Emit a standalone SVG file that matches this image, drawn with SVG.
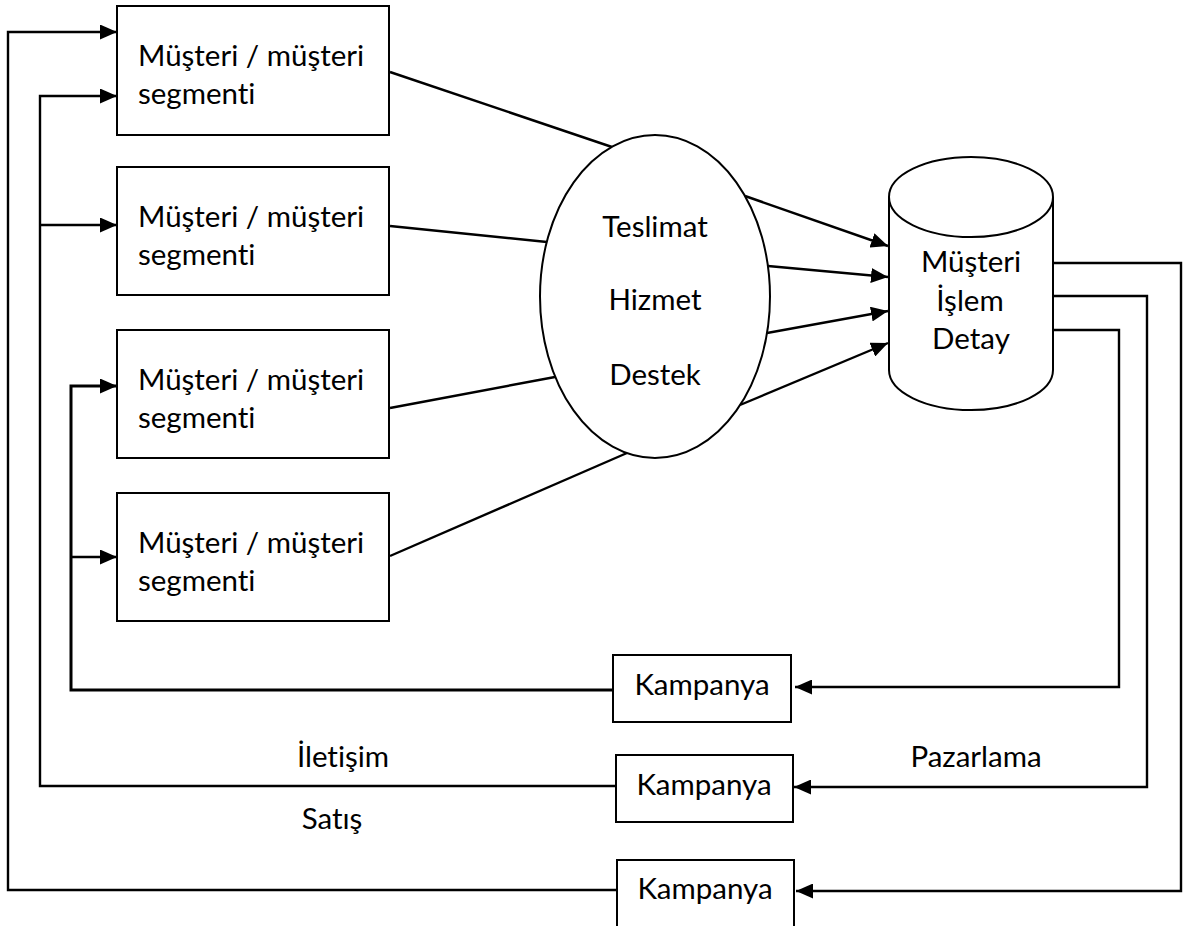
<svg xmlns="http://www.w3.org/2000/svg" width="1187" height="926" viewBox="0 0 1187 926">
  <style>
    .box { fill: #fff; stroke: #000; stroke-width: 2; }
    .shape { fill: #fff; stroke: #000; stroke-width: 2; }
    .lbl { font-family: Lato, "Liberation Sans", sans-serif; font-size: 29.5px; fill: #000; font-variant-ligatures: none; }
    .mid { text-anchor: middle; }
    .ln { fill: none; stroke: #000; stroke-width: 2.4; }
    .lnb { fill: none; stroke: #000; stroke-width: 3; }
  </style>
  <defs>
    <marker id="arr" viewBox="0 0 17 15" refX="17" refY="7.5" markerWidth="17" markerHeight="15" markerUnits="userSpaceOnUse" orient="auto">
      <path d="M0,0 L17,7.5 L0,15 Z" fill="#000"/>
    </marker>
  </defs>
  <rect width="1187" height="926" fill="#fff"/>

  <!-- connectors -->
  <g id="connectors">
    <!-- segments to service ellipse -->
    <line class="ln" x1="390" y1="72" x2="612" y2="147"/>
    <line class="ln" x1="390" y1="226" x2="547" y2="242"/>
    <line class="ln" x1="390" y1="408" x2="555" y2="377"/>
    <line class="ln" x1="390" y1="556" x2="627" y2="453"/>
    <!-- ellipse to database -->
    <line class="ln" x1="745" y1="196" x2="888" y2="246" marker-end="url(#arr)"/>
    <line class="ln" x1="768" y1="266" x2="888" y2="277" marker-end="url(#arr)"/>
    <line class="ln" x1="767" y1="333" x2="888" y2="311" marker-end="url(#arr)"/>
    <line class="ln" x1="740" y1="405" x2="888" y2="343" marker-end="url(#arr)"/>
    <!-- database to campaigns -->
    <polyline class="ln" points="1053,263 1181,263 1181,891 796,891" marker-end="url(#arr)"/>
    <polyline class="ln" points="1053,296 1147,296 1147,787 794,787" marker-end="url(#arr)"/>
    <polyline class="ln" points="1053,330 1119,330 1119,687 795,687" marker-end="url(#arr)"/>
    <!-- campaigns back to segments -->
    <polyline class="ln" points="617,890 8,890 8,32 117,32" marker-end="url(#arr)"/>
    <polyline class="ln" points="616,786 40,786 40,96 117,96" marker-end="url(#arr)"/>
    <polyline class="ln" points="40,225 117,225" marker-end="url(#arr)"/>
    <polyline class="lnb" points="613,690 71,690 71,386 117,386" marker-end="url(#arr)"/>
    <polyline class="ln" points="71,557 117,557" marker-end="url(#arr)"/>
  </g>

  <g id="segment1">
    <rect class="box" x="117" y="6" width="272" height="129"/>
    <text class="lbl" x="138" y="66">Müşteri / müşteri</text>
    <text class="lbl" x="138" y="104">segmenti</text>
  </g>
  <g id="segment2">
    <rect class="box" x="117" y="167" width="272" height="128"/>
    <text class="lbl" x="138" y="227">Müşteri / müşteri</text>
    <text class="lbl" x="138" y="265">segmenti</text>
  </g>
  <g id="segment3">
    <rect class="box" x="117" y="330" width="272" height="128"/>
    <text class="lbl" x="138" y="390">Müşteri / müşteri</text>
    <text class="lbl" x="138" y="428">segmenti</text>
  </g>
  <g id="segment4">
    <rect class="box" x="117" y="493" width="272" height="128"/>
    <text class="lbl" x="138" y="553">Müşteri / müşteri</text>
    <text class="lbl" x="138" y="591">segmenti</text>
  </g>

  <g id="services">
    <ellipse class="shape" cx="655" cy="296.5" rx="115" ry="161.5"/>
    <text class="lbl mid" x="655" y="237">Teslimat</text>
    <text class="lbl mid" x="655" y="310">Hizmet</text>
    <text class="lbl mid" x="655" y="385">Destek</text>
  </g>

  <g id="database">
    <path class="shape" d="M889,197 A82,40 0 0,1 1053,197 L1053,370 A82,40 0 0,1 889,370 Z"/>
    <path class="shape" d="M889,197 A82,40 0 0,0 1053,197" fill="none"/>
    <text class="lbl mid" x="971" y="272">Müşteri</text>
    <text class="lbl mid" x="970" y="311">İşlem</text>
    <text class="lbl mid" x="971" y="349">Detay</text>
  </g>

  <g id="campaign1">
    <rect class="box" x="613" y="655" width="178" height="67"/>
    <text class="lbl mid" x="702" y="695">Kampanya</text>
  </g>
  <g id="campaign2">
    <rect class="box" x="616" y="755" width="177" height="67"/>
    <text class="lbl mid" x="704" y="795">Kampanya</text>
  </g>
  <g id="campaign3">
    <rect class="box" x="617" y="860" width="177" height="70"/>
    <text class="lbl mid" x="705" y="899">Kampanya</text>
  </g>

  <g id="labels">
    <text class="lbl mid" x="343" y="767">İletişim</text>
    <text class="lbl mid" x="976" y="767">Pazarlama</text>
    <text class="lbl mid" x="332" y="829">Satış</text>
  </g>
</svg>
